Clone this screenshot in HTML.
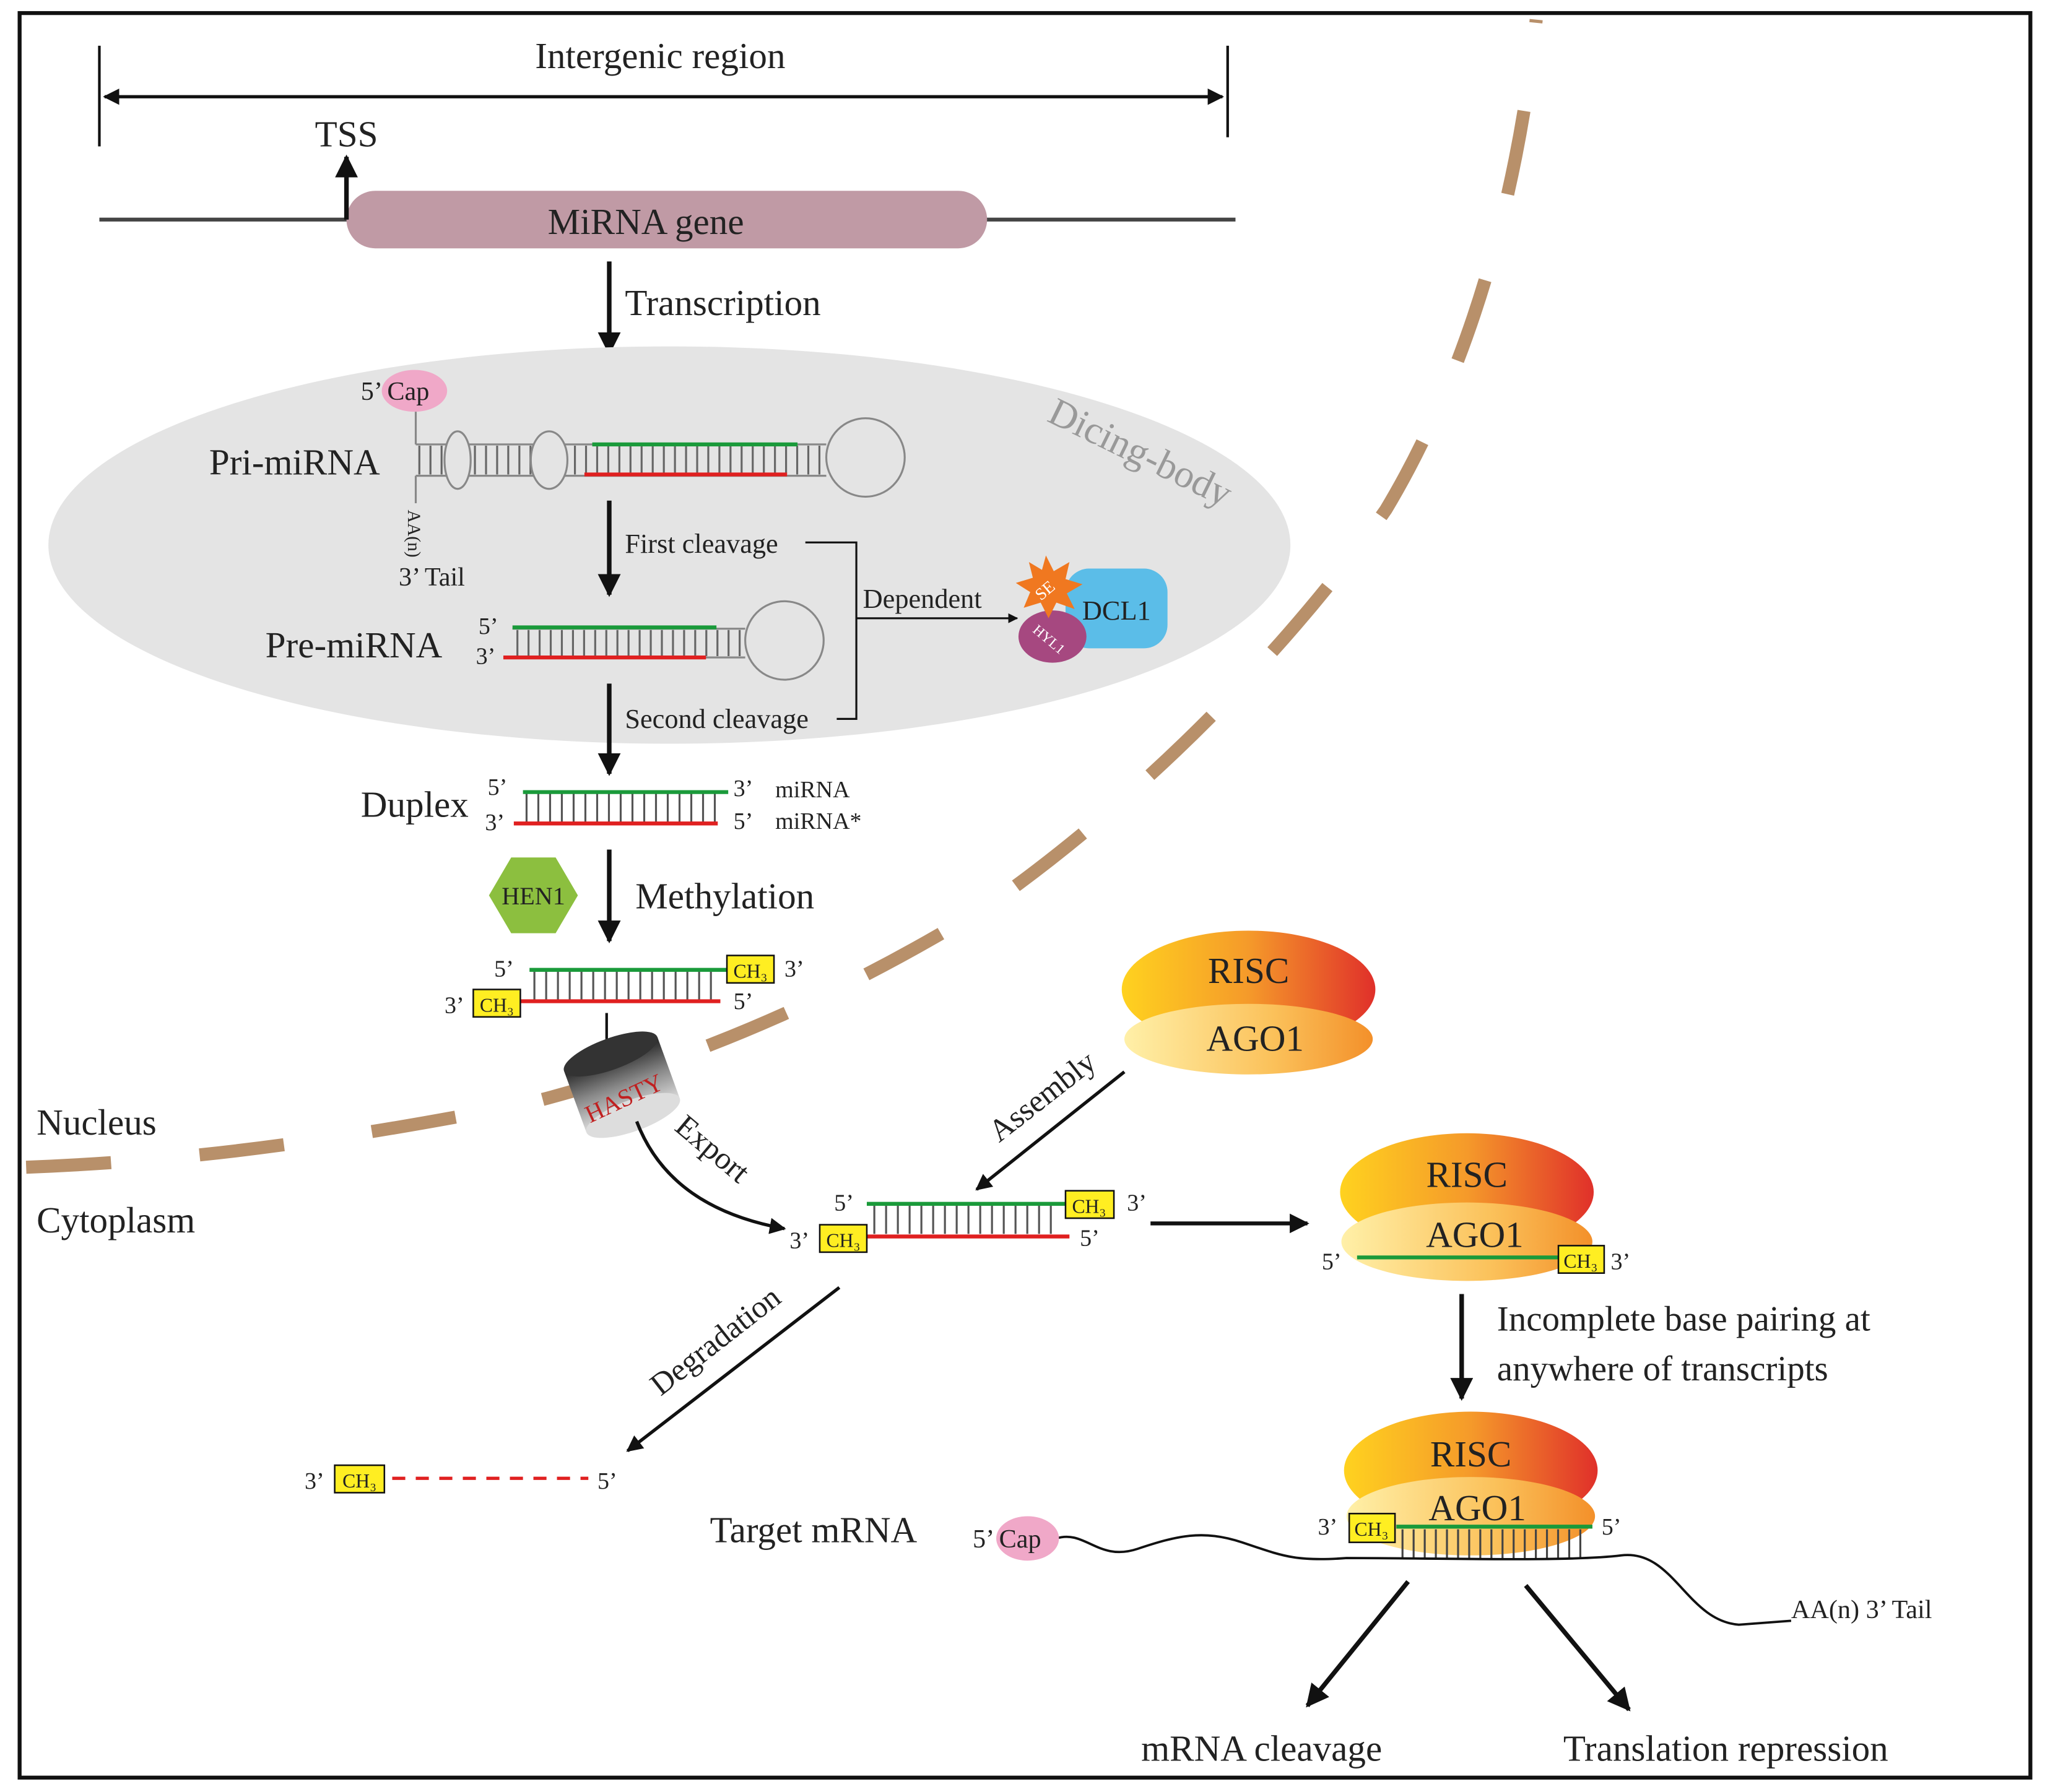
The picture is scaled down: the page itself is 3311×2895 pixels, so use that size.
<!DOCTYPE html>
<html><head><meta charset="utf-8"><style>
html,body{margin:0;padding:0;background:#fff}
svg{display:block}
text{font-family:"Liberation Serif",serif;fill:#222}
</style></head><body>
<svg width="3311" height="2895" viewBox="0 0 1568 1371" xmlns="http://www.w3.org/2000/svg">
<defs>
<marker id="ah" viewBox="0 0 10 10" refX="9" refY="5" markerWidth="5" markerHeight="5" orient="auto-start-reverse"><path d="M0,0 L10,5 L0,10 z" fill="#111"/></marker>
<linearGradient id="gr" x1="0" x2="1"><stop offset="0" stop-color="#ffd21f"/><stop offset="0.5" stop-color="#f59a2a"/><stop offset="1" stop-color="#e0302a"/></linearGradient>
<linearGradient id="ga" x1="0" x2="1"><stop offset="0" stop-color="#fff0a8"/><stop offset="0.6" stop-color="#fbc15a"/><stop offset="1" stop-color="#f3902a"/></linearGradient>
<linearGradient id="gh" x1="0" y1="0" x2="0" y2="1"><stop offset="0" stop-color="#222"/><stop offset="0.5" stop-color="#888"/><stop offset="1" stop-color="#ddd"/></linearGradient>
</defs>
<rect x="15" y="10" width="1538" height="1350" fill="#fff" stroke="#111" stroke-width="3"/>

<!-- intergenic -->
<text x="505" y="52" font-size="28" text-anchor="middle">Intergenic region</text>
<line x1="76" y1="35" x2="76" y2="112" stroke="#111" stroke-width="2"/>
<line x1="939" y1="35" x2="939" y2="105" stroke="#111" stroke-width="2"/>
<line x1="80" y1="74" x2="935" y2="74" stroke="#111" stroke-width="2.5" marker-start="url(#ah)" marker-end="url(#ah)"/>
<line x1="76" y1="168" x2="945" y2="168" stroke="#444" stroke-width="3"/>
<rect x="265" y="146" width="490" height="44" rx="22" fill="#c09aa5"/>
<text x="494" y="179" font-size="28" text-anchor="middle">MiRNA gene</text>
<line x1="265" y1="168" x2="265" y2="120" stroke="#111" stroke-width="3.5" marker-end="url(#ah)"/>
<text x="265" y="112" font-size="28" text-anchor="middle">TSS</text>
<line x1="466" y1="200" x2="466" y2="270" stroke="#111" stroke-width="3.5" marker-end="url(#ah)"/>
<text x="478" y="241" font-size="28">Transcription</text>

<!-- dicing body -->
<ellipse cx="512" cy="417" rx="475" ry="152" fill="#e4e4e4"/>
<text x="868" y="355" font-size="30" fill="#999" style="fill:#999" transform="rotate(26 868 355)" text-anchor="middle">Dicing-body</text>

<!-- nuclear envelope -->
<path d="M20,893 C150,888 260,872 400,845 C520,815 640,765 760,690 C880,605 990,490 1060,390 C1120,290 1160,160 1175,15" fill="none" stroke="#b8906a" stroke-width="10" stroke-dasharray="65,68"/>

<!-- pri-miRNA -->
<text x="160" y="363" font-size="28">Pri-miRNA</text>
<ellipse cx="317" cy="299" rx="25" ry="16" fill="#f0a8c8"/>
<text x="276" y="306" font-size="20">5’ Cap</text>
<line x1="318" y1="315" x2="318" y2="340" stroke="#888" stroke-width="1.5"/>
<line x1="318" y1="340" x2="632" y2="340" stroke="#888" stroke-width="1.5"/>
<line x1="318" y1="364" x2="632" y2="364" stroke="#888" stroke-width="1.5"/>
<line x1="320" y1="352" x2="630" y2="352" stroke="#666" stroke-width="22" stroke-dasharray="1.5,7"/>
<ellipse cx="350" cy="352" rx="10" ry="22" fill="#e4e4e4" stroke="#888" stroke-width="1.5"/>
<ellipse cx="420" cy="352" rx="14" ry="22" fill="#e4e4e4" stroke="#888" stroke-width="1.5"/>
<line x1="453" y1="340" x2="610" y2="340" stroke="#1a9a3a" stroke-width="3"/>
<line x1="447" y1="363" x2="602" y2="363" stroke="#e02020" stroke-width="3"/>
<circle cx="662" cy="350" r="30" fill="#e4e4e4" stroke="#888" stroke-width="1.5"/>
<line x1="318" y1="364" x2="318" y2="385" stroke="#888" stroke-width="1.5"/>
<text x="312" y="390" font-size="14" transform="rotate(90 312 390)">AA(n)</text>
<text x="305" y="448" font-size="20">3’ Tail</text>

<line x1="466" y1="383" x2="466" y2="455" stroke="#111" stroke-width="3.5" marker-end="url(#ah)"/>
<text x="478" y="423" font-size="21">First cleavage</text>
<polyline points="616,415 655,415 655,550 640,550" fill="none" stroke="#111" stroke-width="1.5"/>
<text x="660" y="465" font-size="21">Dependent</text>
<line x1="655" y1="473" x2="778" y2="473" stroke="#111" stroke-width="1.5" marker-end="url(#ah)"/>
<rect x="815" y="435" width="78" height="61" rx="18" fill="#5bbde8"/>
<text x="854" y="474" font-size="21" text-anchor="middle">DCL1</text>
<ellipse cx="805" cy="487" rx="26" ry="20" fill="#a64880"/>
<text x="800" y="492" font-size="11" transform="rotate(40 800 492)" text-anchor="middle" style="fill:#fff">HYL1</text>
<polygon points="800,425 806,437 818,430 815,443 828,447 816,454 822,466 808,461 802,473 796,461 783,465 788,453 777,446 790,442 787,430 797,436" fill="#f07820"/>
<text x="802" y="455" font-size="13" transform="rotate(-40 802 455)" text-anchor="middle" style="fill:#fff">SE</text>

<!-- pre-miRNA -->
<text x="203" y="503" font-size="28">Pre-miRNA</text>
<text x="366" y="485" font-size="18">5’</text>
<text x="364" y="508" font-size="18">3’</text>
<line x1="392" y1="481" x2="570" y2="481" stroke="#888" stroke-width="1.5"/>
<line x1="385" y1="503" x2="570" y2="503" stroke="#888" stroke-width="1.5"/>
<line x1="395" y1="492" x2="570" y2="492" stroke="#666" stroke-width="20" stroke-dasharray="1.5,7"/>
<line x1="392" y1="480" x2="548" y2="480" stroke="#1a9a3a" stroke-width="3"/>
<line x1="385" y1="503" x2="540" y2="503" stroke="#e02020" stroke-width="3"/>
<circle cx="600" cy="490" r="30" fill="#e4e4e4" stroke="#888" stroke-width="1.5"/>

<line x1="466" y1="523" x2="466" y2="592" stroke="#111" stroke-width="3.5" marker-end="url(#ah)"/>
<text x="478" y="557" font-size="21">Second cleavage</text>

<!-- duplex -->
<text x="276" y="625" font-size="28">Duplex</text>
<text x="373" y="608" font-size="18">5’</text>
<text x="371" y="635" font-size="18">3’</text>
<line x1="402" y1="618" x2="548" y2="618" stroke="#555" stroke-width="22" stroke-dasharray="1.5,7.5"/>
<line x1="400" y1="606" x2="557" y2="606" stroke="#1a9a3a" stroke-width="3"/>
<line x1="393" y1="630" x2="549" y2="630" stroke="#e02020" stroke-width="3"/>
<text x="561" y="609" font-size="18">3’</text>
<text x="561" y="634" font-size="18">5’</text>
<text x="593" y="610" font-size="18">miRNA</text>
<text x="593" y="634" font-size="18">miRNA*</text>

<polygon points="391,656 425,656 442,685 425,714 391,714 374,685" fill="#8cbf3f"/>
<text x="408" y="692" font-size="19" text-anchor="middle">HEN1</text>
<line x1="466" y1="650" x2="466" y2="720" stroke="#111" stroke-width="3.5" marker-end="url(#ah)"/>
<text x="486" y="695" font-size="28">Methylation</text>

<!-- methylated -->
<line x1="408" y1="754" x2="548" y2="754" stroke="#555" stroke-width="22" stroke-dasharray="1.5,7.5"/>
<line x1="405" y1="742" x2="556" y2="742" stroke="#1a9a3a" stroke-width="3"/>
<line x1="398" y1="766" x2="551" y2="766" stroke="#e02020" stroke-width="3"/>
<rect x="556" y="731" width="36" height="21" fill="#ffee22" stroke="#111" stroke-width="1.2"/>
<text x="574" y="748" font-size="15" text-anchor="middle">CH₃</text>
<rect x="362" y="757" width="36" height="21" fill="#ffee22" stroke="#111" stroke-width="1.2"/>
<text x="380" y="774" font-size="15" text-anchor="middle">CH₃</text>
<text x="378" y="747" font-size="18">5’</text>
<text x="600" y="747" font-size="18">3’</text>
<text x="340" y="775" font-size="18">3’</text>
<text x="561" y="772" font-size="18">5’</text>
<line x1="464" y1="775" x2="464" y2="795" stroke="#111" stroke-width="2"/>

<!-- HASTY -->
<g transform="rotate(-20 475 828)">
<rect x="437" y="805" width="76" height="50" fill="url(#gh)"/>
<ellipse cx="475" cy="805" rx="38" ry="12" fill="#333"/>
<ellipse cx="475" cy="855" rx="38" ry="12" fill="#ddd"/>
</g>
<text x="480" y="846" font-size="19" style="fill:#c02020" transform="rotate(-25 480 846)" text-anchor="middle">HASTY</text>
<path d="M487,858 C505,905 545,930 600,940" fill="none" stroke="#111" stroke-width="2.5" marker-end="url(#ah)"/>
<text x="540" y="885" font-size="24" transform="rotate(40 540 885)" text-anchor="middle">Export</text>

<text x="28" y="868" font-size="28">Nucleus</text>
<text x="28" y="943" font-size="28">Cytoplasm</text>

<!-- RISC 1 -->
<ellipse cx="955" cy="757" rx="97" ry="45" fill="url(#gr)"/>
<ellipse cx="955" cy="795" rx="95" ry="27" fill="url(#ga)"/>
<text x="955" y="752" font-size="28" text-anchor="middle">RISC</text>
<text x="960" y="804" font-size="28" text-anchor="middle">AGO1</text>
<line x1="860" y1="820" x2="747" y2="910" stroke="#111" stroke-width="2.5" marker-end="url(#ah)"/>
<text x="802" y="845" font-size="24" transform="rotate(-38 802 845)" text-anchor="middle">Assembly</text>

<!-- cytoplasm duplex -->
<line x1="668" y1="933" x2="812" y2="933" stroke="#555" stroke-width="22" stroke-dasharray="1.5,7.5"/>
<line x1="663" y1="921" x2="815" y2="921" stroke="#1a9a3a" stroke-width="3"/>
<line x1="655" y1="946" x2="818" y2="946" stroke="#e02020" stroke-width="3"/>
<rect x="815" y="911" width="37" height="21" fill="#ffee22" stroke="#111" stroke-width="1.2"/>
<text x="833" y="928" font-size="15" text-anchor="middle">CH₃</text>
<rect x="627" y="937" width="36" height="21" fill="#ffee22" stroke="#111" stroke-width="1.2"/>
<text x="645" y="954" font-size="15" text-anchor="middle">CH₃</text>
<text x="638" y="926" font-size="18">5’</text>
<text x="862" y="926" font-size="18">3’</text>
<text x="604" y="955" font-size="18">3’</text>
<text x="826" y="953" font-size="18">5’</text>
<line x1="880" y1="936" x2="1000" y2="936" stroke="#111" stroke-width="3" marker-end="url(#ah)"/>

<!-- RISC 2 -->
<ellipse cx="1122" cy="912" rx="97" ry="45" fill="url(#gr)"/>
<ellipse cx="1122" cy="950" rx="96" ry="30" fill="url(#ga)"/>
<text x="1122" y="908" font-size="28" text-anchor="middle">RISC</text>
<text x="1128" y="954" font-size="28" text-anchor="middle">AGO1</text>
<line x1="1038" y1="962" x2="1192" y2="962" stroke="#1a9a3a" stroke-width="3"/>
<rect x="1192" y="953" width="35" height="21" fill="#ffee22" stroke="#111" stroke-width="1.2"/>
<text x="1209" y="970" font-size="15" text-anchor="middle">CH₃</text>
<text x="1011" y="971" font-size="18">5’</text>
<text x="1232" y="971" font-size="18">3’</text>
<line x1="1118" y1="990" x2="1118" y2="1070" stroke="#111" stroke-width="3.5" marker-end="url(#ah)"/>
<text x="1145" y="1018" font-size="27">Incomplete base pairing at</text>
<text x="1145" y="1056" font-size="27">anywhere of transcripts</text>

<!-- degradation -->
<line x1="642" y1="985" x2="480" y2="1110" stroke="#111" stroke-width="2.5" marker-end="url(#ah)"/>
<text x="552" y="1032" font-size="24" transform="rotate(-38 552 1032)" text-anchor="middle">Degradation</text>
<rect x="256" y="1121" width="38" height="21" fill="#ffee22" stroke="#111" stroke-width="1.2"/>
<text x="275" y="1138" font-size="15" text-anchor="middle">CH₃</text>
<text x="233" y="1139" font-size="18">3’</text>
<line x1="300" y1="1131" x2="450" y2="1131" stroke="#e02020" stroke-width="2.5" stroke-dasharray="10,8"/>
<text x="457" y="1139" font-size="18">5’</text>

<!-- RISC 3 + mRNA -->
<ellipse cx="1125" cy="1125" rx="97" ry="45" fill="url(#gr)"/>
<ellipse cx="1125" cy="1160" rx="95" ry="30" fill="url(#ga)"/>
<text x="1125" y="1122" font-size="28" text-anchor="middle">RISC</text>
<text x="1130" y="1163" font-size="28" text-anchor="middle">AGO1</text>
<line x1="1072" y1="1181" x2="1210" y2="1181" stroke="#444" stroke-width="22" stroke-dasharray="1.5,7"/>
<line x1="1068" y1="1168" x2="1218" y2="1168" stroke="#1a9a3a" stroke-width="3"/>
<rect x="1032" y="1158" width="35" height="22" fill="#ffee22" stroke="#111" stroke-width="1.2"/>
<text x="1049" y="1175" font-size="15" text-anchor="middle">CH₃</text>
<text x="1008" y="1174" font-size="18">3’</text>
<text x="1225" y="1174" font-size="18">5’</text>
<path d="M808,1177 C830,1170 840,1195 870,1185 C900,1175 920,1170 950,1180 C980,1190 990,1195 1030,1192 C1100,1192 1200,1195 1240,1190 C1280,1185 1290,1240 1330,1243 L1370,1240" fill="none" stroke="#111" stroke-width="1.8"/>
<ellipse cx="786" cy="1177" rx="24" ry="17" fill="#f0a8c8"/>
<text x="744" y="1184" font-size="20">5’ Cap</text>
<text x="543" y="1180" font-size="28">Target mRNA</text>
<text x="1370" y="1238" font-size="20">AA(n) 3’ Tail</text>
<line x1="1077" y1="1210" x2="1000" y2="1305" stroke="#111" stroke-width="3.5" marker-end="url(#ah)"/>
<line x1="1167" y1="1213" x2="1246" y2="1308" stroke="#111" stroke-width="3.5" marker-end="url(#ah)"/>
<text x="965" y="1347" font-size="28" text-anchor="middle">mRNA cleavage</text>
<text x="1320" y="1347" font-size="28" text-anchor="middle">Translation repression</text>
</svg>
</body></html>
